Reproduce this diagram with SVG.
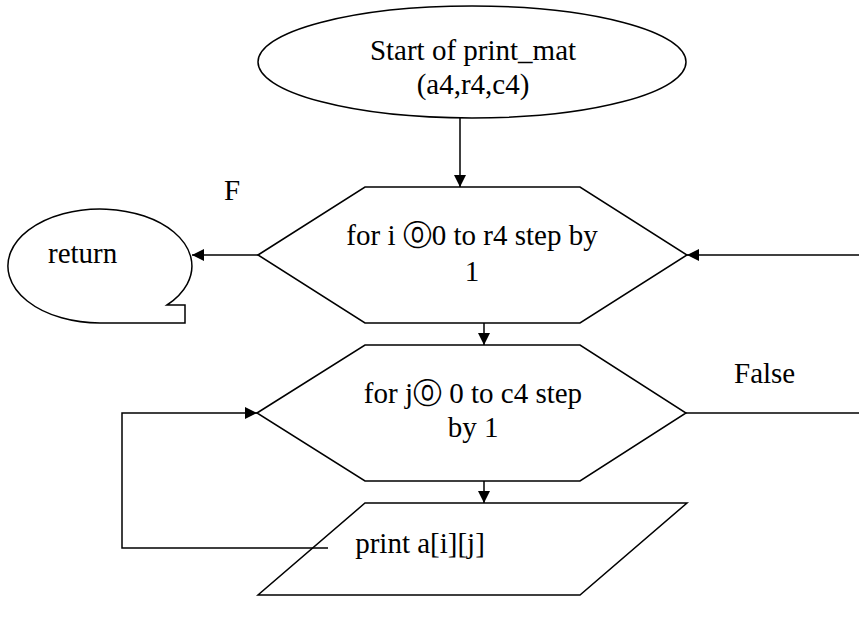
<svg xmlns="http://www.w3.org/2000/svg" width="859" height="617" viewBox="0 0 859 617">
<style>
.s{fill:#fff;stroke:#000;stroke-width:1.5}
.c{fill:none;stroke:#000;stroke-width:1.5}
text{font-family:"Liberation Serif","Times New Roman",serif;font-size:29px;fill:#000}
.m{text-anchor:middle}
</style>
<defs>
<marker id="ah" viewBox="0 0 10 10" refX="10" refY="5" markerWidth="12" markerHeight="12" markerUnits="userSpaceOnUse" orient="auto">
<path d="M0,0 L10,5 L0,10 z" fill="#000"/>
</marker>
</defs>
<g id="start">
<ellipse class="s" cx="472" cy="62" rx="214" ry="56"/>
<text class="m" x="473" y="60">Start of print_mat</text>
<text class="m" x="473" y="94">(a4,r4,c4)</text>
</g>
<g id="loop-i">
<polygon class="s" points="258,255 365,187 580,187 687,255 580,323 365,323"/>
<text class="m" x="472" y="245">for i ⓪0 to r4 step by</text>
<text class="m" x="472" y="281">1</text>
</g>
<g id="loop-j">
<polygon class="s" points="257,413 365,345 580,345 686,413 580,481 365,481"/>
<text class="m" x="473" y="403">for j⓪ 0 to c4 step</text>
<text class="m" x="473" y="437">by 1</text>
</g>
<g id="print">
<polygon class="s" points="365,503 687,503 580,595 258,595"/>
<text class="m" x="420" y="553">print a[i][j]</text>
</g>
<g id="return">
<path class="s" d="M167,305 A92,57 0 1 0 100,323 L185,323 L185,305 Z"/>
<text x="48" y="263">return</text>
</g>
<g id="labels">
<text x="224" y="200">F</text>
<text x="734" y="383">False</text>
</g>
<g id="connectors">
<line class="c" x1="460" y1="118" x2="460" y2="187" marker-end="url(#ah)"/>
<line class="c" x1="484" y1="323" x2="484" y2="345" marker-end="url(#ah)"/>
<line class="c" x1="484" y1="481" x2="484" y2="503" marker-end="url(#ah)"/>
<line class="c" x1="258" y1="255" x2="192" y2="255" marker-end="url(#ah)"/>
<line class="c" x1="859" y1="255" x2="687" y2="255" marker-end="url(#ah)"/>
<line class="c" x1="686" y1="413" x2="859" y2="413"/>
<polyline class="c" points="328,548 122,548 122,413 257,413" marker-end="url(#ah)"/>
</g>
</svg>
